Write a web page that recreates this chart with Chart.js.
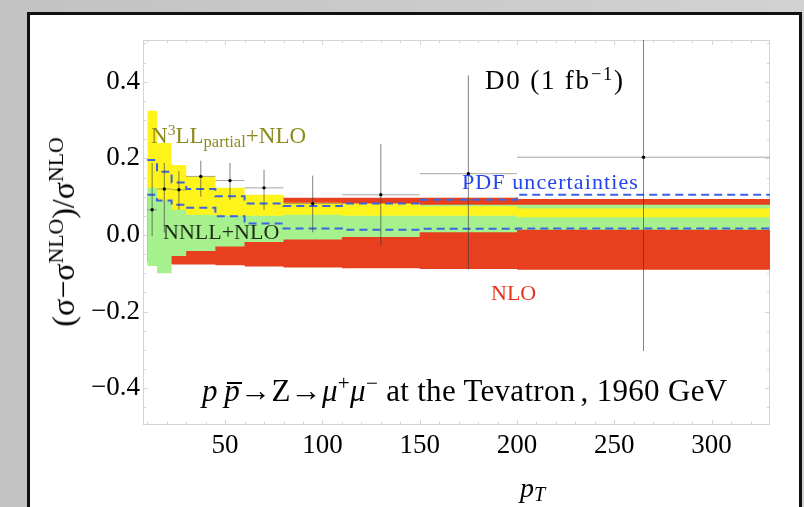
<!DOCTYPE html>
<html>
<head>
<meta charset="utf-8">
<script src="https://cdn.jsdelivr.net/npm/chart.js@4.4.1/dist/chart.umd.min.js"></script>
<style>
  html, body { margin: 0; padding: 0; }
  body {
    width: 804px; height: 507px; overflow: hidden; position: relative;
    background: linear-gradient(to right, #c2c2c2, #d2d2d2);
    font-family: "Liberation Serif", "DejaVu Serif", serif;
  }
  #win {
    position: absolute; left: 27px; top: 12px; width: 775px; height: 540px;
    box-sizing: border-box; background: #fff; border: 3px solid #111;
  }
  #chart { position: absolute; left: 0; top: 0; }
  .lbl { position: absolute; white-space: nowrap; line-height: 1; }
  .sup { font-size: 0.68em; position: relative; top: -0.5em; }
  .sub { font-size: 0.72em; position: relative; top: 0.22em; }
  .bar { position: relative; }
  .bar::after { content: ""; position: absolute; left: 3px; right: -2px; top: 9px; border-top: 2px solid #000; }
</style>
</head>
<body>
<div id="win"></div>
<canvas id="chart" width="804" height="507"></canvas>

<div class="lbl" style="left:485px; top:67px; font-size:27px; letter-spacing:1.8px;">D0 (1 fb<span class="sup">−1</span>)</div>
<div class="lbl" style="left:151px; top:124px; font-size:23px; color:#8c8a1f;">N<span class="sup">3</span>LL<span class="sub">partial</span>+NLO</div>
<div class="lbl" style="left:163px; top:221px; font-size:22px; color:#1f2d18;">NNLL+NLO</div>
<div class="lbl" style="left:462px; top:171px; font-size:22px; color:#2244ee; letter-spacing:1.1px;">PDF uncertainties</div>
<div class="lbl" style="left:491px; top:282px; font-size:22px; color:#e8331c;">NLO</div>
<div class="lbl" style="left:202px; top:375px; font-size:31px; letter-spacing:0.3px;"><i>p</i>&thinsp;<span class="bar"><i>p</i></span>→Z→<i>μ</i><span class="sup">+</span><i>μ</i><span class="sup">−</span> at the Tevatron<span style="margin-left:5px">,</span> 1960 GeV</div>
<div class="lbl" style="left:520px; top:474px; font-size:28px;"><i>p</i><span class="sub"><i>T</i></span></div>
<div class="lbl" style="left:63px; top:232px; font-size:32px; transform: translate(-50%,-50%) rotate(-90deg);">(σ−σ<span class="sup">NLO</span>)/σ<span class="sup">NLO</span></div>

<script>
/* ── data ── */
const binEdges = [10, 15, 22.5, 30, 45, 60, 80, 110, 150, 200, 330];

const nloHi  = [0.10, 0.10, 0.10, 0.10, 0.10, 0.10, 0.097, 0.097, 0.097, 0.094];
const nloLo  = [-0.07, -0.075, -0.077, -0.077, -0.079, -0.082, -0.085, -0.087, -0.089, -0.091];

const nnllHi = [0.15, 0.13, 0.11, 0.095, 0.085, 0.08, 0.08, 0.08, 0.079, 0.079];
const nnllLo = [-0.081, -0.10, -0.055, -0.042, -0.03, -0.018, -0.012, -0.005, 0.007, 0.014];

const n3llHi = [0.324, 0.24, 0.183, 0.153, 0.123, 0.105, 0.084, 0.082, 0.075, 0.069];
const n3llLo = [0.123, 0.09, 0.066, 0.053, 0.05, 0.05, 0.053, 0.05, 0.05, 0.046];

const pdfHi  = [0.196, 0.165, 0.137, 0.12, 0.101, 0.082, 0.076, 0.082, 0.092, 0.105];
const pdfLo  = [0.105, 0.09, 0.079, 0.071, 0.049, 0.03, 0.017, 0.014, 0.016, 0.017];

const dataX     = [12.5, 18.75, 26.25, 37.5, 52.5, 70, 95, 130, 175, 265];
const dataY     = [0.066, 0.12, 0.118, 0.153, 0.142, 0.123, 0.082, 0.105, 0.16, 0.203];
const dataErrHi = [0.188, 0.188, 0.166, 0.194, 0.188, 0.17, 0.155, 0.237, 0.417, 0.709];
const dataErrLo = [-0.003, 0.006, 0.066, 0.10, 0.092, 0.066, 0.007, -0.027, -0.09, -0.303];

const xTicks = [50, 100, 150, 200, 250, 300];
const yTicks = [-0.4, -0.2, 0, 0.2, 0.4];
const yTickLabels = ['−0.4', '−0.2', '0.0', '0.2', '0.4'];

/* ── helpers ── */
// histogram steps: each bin value held flat across its edges
function steps(vals) {
  const pts = [];
  vals.forEach((v, i) => pts.push({ x: binEdges[i], y: v }, { x: binEdges[i + 1], y: v }));
  return pts;
}

function band(lo, hi, color, order) {
  const base = { pointRadius: 0, borderColor: 'rgba(0,0,0,0)', borderWidth: 1, tension: 0, order };
  return [
    { ...base, data: steps(lo), fill: false },
    { ...base, data: steps(hi), fill: '-1', backgroundColor: color },
  ];
}

const vBars = [], hBars = [];
dataX.forEach((x, i) => {
  vBars.push({ x, y: dataErrLo[i] }, { x, y: dataErrHi[i] }, { x, y: null });
  hBars.push({ x: binEdges[i], y: dataY[i] }, { x: binEdges[i + 1], y: dataY[i] }, { x: binEdges[i + 1], y: null });
});

/* ── frame with small inward ticks ── */
const framePlugin = {
  id: 'frame',
  beforeDatasetsDraw(chart) {
    const { ctx, chartArea: a, scales: { x, y } } = chart;
    ctx.save();
    ctx.strokeStyle = '#d4d4d4';
    ctx.lineWidth = 1;
    ctx.strokeRect(a.left + 0.5, a.top + 0.5, a.right - a.left - 1, a.bottom - a.top - 1);
    ctx.beginPath();
    for (let v = 10; v < 330; v += 10) {
      const px = Math.round(x.getPixelForValue(v)) + 0.5;
      const len = v % 50 === 0 ? 5 : 3;
      ctx.moveTo(px, a.bottom); ctx.lineTo(px, a.bottom - len);
      ctx.moveTo(px, a.top);    ctx.lineTo(px, a.top + len);
    }
    for (let k = -9; k <= 10; k++) {
      const py = Math.round(y.getPixelForValue(k * 0.05)) + 0.5;
      const len = k % 4 === 0 ? 5 : 3;
      ctx.moveTo(a.left, py);  ctx.lineTo(a.left + len, py);
      ctx.moveTo(a.right, py); ctx.lineTo(a.right - len, py);
    }
    ctx.stroke();
    ctx.restore();
  }
};

const tickFont = { family: "'Liberation Serif', serif", size: 27 };

new Chart(document.getElementById('chart'), {
  type: 'line',
  data: {
    datasets: [
      ...band(nloLo, nloHi, '#e8401f', 10),
      ...band(nnllLo, nnllHi, '#a6f08d', 9),
      ...band(n3llLo, n3llHi, '#fff31c', 8),
      { data: steps(pdfHi), borderColor: '#3a64e0', borderWidth: 2, borderDash: [8, 5], pointRadius: 0, fill: false, order: 4 },
      { data: steps(pdfLo), borderColor: '#3a64e0', borderWidth: 2, borderDash: [8, 5], pointRadius: 0, fill: false, order: 4 },
      { data: hBars, borderColor: 'rgba(110,110,110,0.6)', borderWidth: 1, pointRadius: 0, fill: false, order: 3 },
      { data: vBars, borderColor: 'rgba(60,60,60,0.65)', borderWidth: 1, pointRadius: 0, fill: false, order: 2 },
      { data: dataX.map((x, i) => ({ x, y: dataY[i] })), showLine: false, pointRadius: 1.7,
        pointBackgroundColor: '#000', pointBorderWidth: 0, order: 1 },
    ]
  },
  options: {
    responsive: false, animation: false, devicePixelRatio: 1,
    layout: { padding: { left: 0, top: 40, right: 34, bottom: 0 } },
    plugins: { legend: { display: false }, tooltip: { enabled: false } },
    scales: {
      x: {
        type: 'linear', min: 7.8, max: 330,
        afterBuildTicks: s => { s.ticks = xTicks.map(v => ({ value: v })); },
        afterFit: s => { s.height = 82; },
        grid: { display: false, drawTicks: false }, border: { display: false },
        ticks: { font: tickFont, color: '#000', padding: 5, maxRotation: 0, callback: v => v }
      },
      y: {
        min: -0.496, max: 0.509,
        afterBuildTicks: s => { s.ticks = yTicks.map(v => ({ value: v })); },
        afterFit: s => { s.width = 143; },
        grid: { display: false, drawTicks: false }, border: { display: false },
        ticks: { font: tickFont, color: '#000', padding: 3, callback: (v, i) => yTickLabels[i] }
      }
    }
  },
  plugins: [framePlugin]
});
</script>
</body>
</html>
